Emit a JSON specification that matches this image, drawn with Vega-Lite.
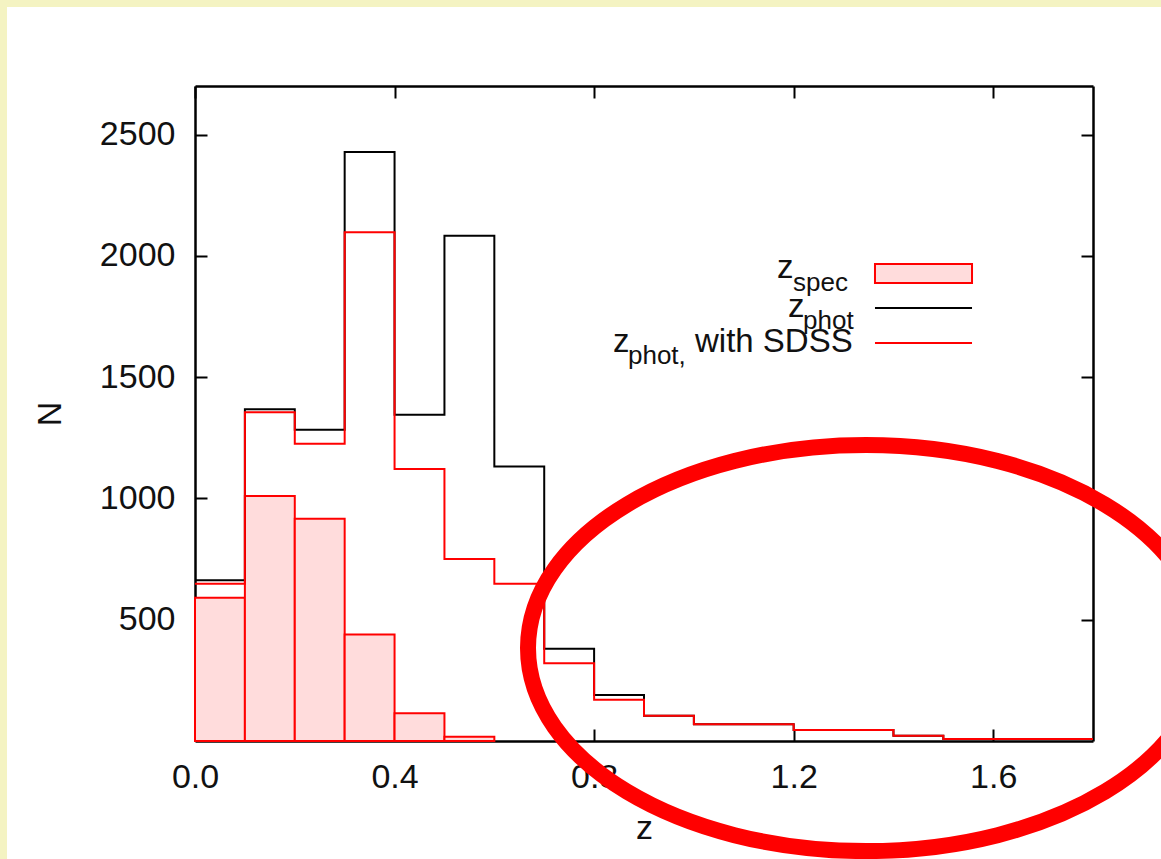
{
  "$schema": "https://vega.github.io/schema/vega-lite/v6.json",
  "width": 1154,
  "height": 852,
  "autosize": {"type": "none"},
  "padding": {"left": 7, "top": 7, "right": 0, "bottom": 0},
  "background": "#f4f3c2",
  "config": {
    "view": {"fill": "white", "stroke": null},
    "font": "Liberation Sans",
    "axis": {"grid": false, "labelFont": "Liberation Sans", "titleFont": "Liberation Sans"}
  },
  "datasets": {
    "spec": [
      {"z_lo": 0.0, "z_hi": 0.1, "n": 591},
      {"z_lo": 0.1, "z_hi": 0.2, "n": 1010},
      {"z_lo": 0.2, "z_hi": 0.3, "n": 916},
      {"z_lo": 0.3, "z_hi": 0.4, "n": 439},
      {"z_lo": 0.4, "z_hi": 0.5, "n": 114},
      {"z_lo": 0.5, "z_hi": 0.6, "n": 18}
    ],
    "steps": [
      {"z": 0.0, "phot": 663, "sdss": 648},
      {"z": 0.1, "phot": 1368, "sdss": 1355},
      {"z": 0.2, "phot": 1283, "sdss": 1225},
      {"z": 0.3, "phot": 2428, "sdss": 2097},
      {"z": 0.4, "phot": 1345, "sdss": 1121},
      {"z": 0.5, "phot": 2083, "sdss": 750},
      {"z": 0.6, "phot": 1132, "sdss": 648},
      {"z": 0.7, "phot": 380, "sdss": 320},
      {"z": 0.8, "phot": 190, "sdss": 170},
      {"z": 0.9, "phot": 104, "sdss": 104},
      {"z": 1.0, "phot": 69, "sdss": 69},
      {"z": 1.2, "phot": 45, "sdss": 45},
      {"z": 1.4, "phot": 22, "sdss": 22},
      {"z": 1.5, "phot": 8, "sdss": 8},
      {"z": 1.8, "phot": 8, "sdss": 8}
    ]
  },
  "layer": [
    {
      "data": {"name": "spec"},
      "mark": {"type": "rect", "fill": "#ffdcdc", "stroke": "#ff0000", "strokeWidth": 2},
      "encoding": {
        "x": {
          "field": "z_lo", "type": "quantitative",
          "scale": {"domain": [0, 1.8], "range": [188, 1086], "nice": false, "zero": false},
          "axis": {
            "orient": "bottom", "offset": -118, "values": [0, 0.4, 0.8, 1.2, 1.6], "format": ".1f",
            "tickSize": -12, "tickWidth": 2, "tickColor": "black",
            "domainColor": "black", "domainWidth": 2.5,
            "labelFontSize": 34, "labelColor": "#111", "labelPadding": 31, "labelFlush": false, "labelOverlap": false,
            "title": "z", "titleFontSize": 34, "titleFontWeight": "normal", "titleColor": "#111", "titlePadding": 17
          }
        },
        "x2": {"field": "z_hi"},
        "y": {
          "field": "n", "type": "quantitative",
          "scale": {"domain": [0, 2700], "range": [734, 79], "nice": false},
          "axis": {
            "orient": "left", "offset": -188, "values": [500, 1000, 1500, 2000, 2500], "format": "d",
            "tickSize": -12, "tickWidth": 2, "tickColor": "black",
            "domainColor": "black", "domainWidth": 2.5,
            "labelFontSize": 34, "labelColor": "#111", "labelPadding": 32, "labelFlush": false, "labelOverlap": false,
            "title": "N", "titleFontSize": 34, "titleFontWeight": "normal", "titleColor": "#111", "titlePadding": 32
          }
        },
        "y2": {"datum": 0}
      }
    },
    {
      "data": {"name": "steps"},
      "mark": {"type": "line", "interpolate": "step-after", "color": "black", "strokeWidth": 2},
      "encoding": {
        "x": {
          "field": "z", "type": "quantitative",
          "scale": {"domain": [0, 1.8], "range": [188, 1086], "nice": false, "zero": false},
          "axis": {
            "orient": "top", "offset": -79, "values": [0, 0.4, 0.8, 1.2, 1.6], "labels": false,
            "tickSize": -12, "tickWidth": 2, "tickColor": "black",
            "domainColor": "black", "domainWidth": 2.5, "title": null
          }
        },
        "y": {
          "field": "phot", "type": "quantitative",
          "scale": {"domain": [0, 2700], "range": [734, 79], "nice": false},
          "axis": {
            "orient": "right", "offset": -68, "values": [500, 1000, 1500, 2000, 2500], "labels": false,
            "tickSize": -12, "tickWidth": 2, "tickColor": "black",
            "domainColor": "black", "domainWidth": 2.5, "title": null
          }
        }
      }
    },
    {
      "data": {"name": "steps"},
      "mark": {"type": "line", "interpolate": "step-after", "color": "#ff0000", "strokeWidth": 2},
      "encoding": {
        "x": {"field": "z", "type": "quantitative", "axis": null},
        "y": {"field": "sdss", "type": "quantitative", "axis": null}
      }
    },
    {
      "data": {"values": [{}]},
      "mark": {"type": "rect", "fill": "#ffdcdc", "stroke": "#ff0000", "strokeWidth": 2},
      "encoding": {
        "x": {"datum": 1.363, "type": "quantitative", "axis": null},
        "x2": {"datum": 1.5575},
        "y": {"datum": 1966, "type": "quantitative", "axis": null},
        "y2": {"datum": 1888}
      }
    },
    {
      "data": {"values": [{}]},
      "mark": {"type": "rule", "color": "black", "strokeWidth": 2},
      "encoding": {
        "x": {"datum": 1.363, "type": "quantitative", "axis": null},
        "x2": {"datum": 1.5575},
        "y": {"datum": 1785, "type": "quantitative", "axis": null}
      }
    },
    {
      "data": {"values": [{}]},
      "mark": {"type": "rule", "color": "#ff0000", "strokeWidth": 2},
      "encoding": {
        "x": {"datum": 1.363, "type": "quantitative", "axis": null},
        "x2": {"datum": 1.5575},
        "y": {"datum": 1641, "type": "quantitative", "axis": null}
      }
    },
    {
      "data": {"values": [{}]},
      "mark": {"type": "text", "text": "z", "align": "left", "baseline": "alphabetic", "fontSize": 33, "color": "#111"},
      "encoding": {
        "x": {"datum": 1.1666, "type": "quantitative", "axis": null},
        "y": {"datum": 1908, "type": "quantitative", "axis": null}
      }
    },
    {
      "data": {"values": [{}]},
      "mark": {"type": "text", "text": "spec", "align": "left", "baseline": "alphabetic", "fontSize": 26, "color": "#111"},
      "encoding": {
        "x": {"datum": 1.1987, "type": "quantitative", "axis": null},
        "y": {"datum": 1857, "type": "quantitative", "axis": null}
      }
    },
    {
      "data": {"values": [{}]},
      "mark": {"type": "text", "text": "z", "align": "left", "baseline": "alphabetic", "fontSize": 33, "color": "#111"},
      "encoding": {
        "x": {"datum": 1.1886, "type": "quantitative", "axis": null},
        "y": {"datum": 1748, "type": "quantitative", "axis": null}
      }
    },
    {
      "data": {"values": [{}]},
      "mark": {"type": "text", "text": "phot", "align": "left", "baseline": "alphabetic", "fontSize": 26, "color": "#111"},
      "encoding": {
        "x": {"datum": 1.2187, "type": "quantitative", "axis": null},
        "y": {"datum": 1700, "type": "quantitative", "axis": null}
      }
    },
    {
      "data": {"values": [{}]},
      "mark": {"type": "text", "text": "z", "align": "left", "baseline": "alphabetic", "fontSize": 33, "color": "#111"},
      "encoding": {
        "x": {"datum": 0.8379, "type": "quantitative", "axis": null},
        "y": {"datum": 1603, "type": "quantitative", "axis": null}
      }
    },
    {
      "data": {"values": [{}]},
      "mark": {"type": "text", "text": "phot,", "align": "left", "baseline": "alphabetic", "fontSize": 26, "color": "#111"},
      "encoding": {
        "x": {"datum": 0.8679, "type": "quantitative", "axis": null},
        "y": {"datum": 1556, "type": "quantitative", "axis": null}
      }
    },
    {
      "data": {"values": [{}]},
      "mark": {"type": "text", "text": "with SDSS", "align": "left", "baseline": "alphabetic", "fontSize": 33, "color": "#111"},
      "encoding": {
        "x": {"datum": 1.0022, "type": "quantitative", "axis": null},
        "y": {"datum": 1603, "type": "quantitative", "axis": null}
      }
    },
    {
      "data": {"values": [{}]},
      "mark": {
        "type": "point",
        "shape": "M -1 0 C -1 -0.3317 -0.5523 -0.6006 0 -0.6006 C 0.5523 -0.6006 1 -0.3317 1 0 C 1 0.3317 0.5523 0.6006 0 0.6006 C -0.5523 0.6006 -1 0.3317 -1 0 Z",
        "filled": false, "stroke": "#ff0000", "strokeWidth": 16, "size": 456976, "opacity": 1, "strokeOpacity": 1, "clip": false
      },
      "encoding": {
        "x": {"datum": 1.345, "type": "quantitative", "axis": null},
        "y": {"datum": 383, "type": "quantitative", "axis": null}
      }
    }
  ],
  "resolve": {"axis": {"x": "independent", "y": "independent"}}
}
